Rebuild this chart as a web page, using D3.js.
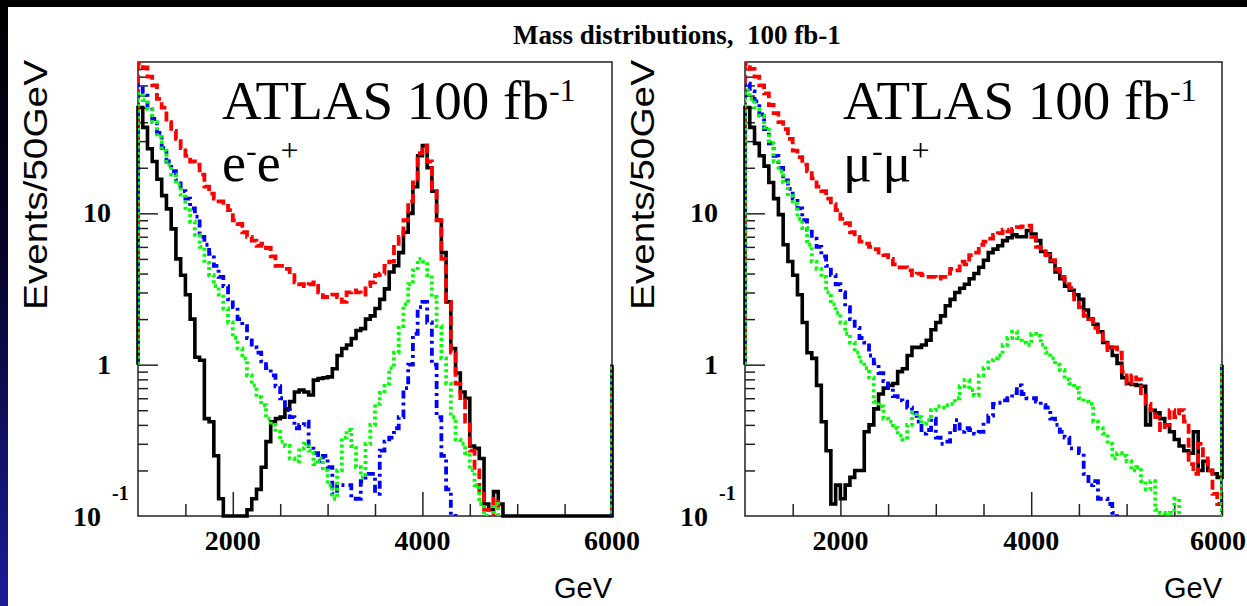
<!DOCTYPE html>
<html>
<head>
<meta charset="utf-8">
<script src="https://cdn.jsdelivr.net/npm/d3@7/dist/d3.min.js"></script>
<style>
  body { margin: 0; background: #fff; }
  svg { display: block; }
</style>
</head>
<body>
<div id="vis"></div>
<script>
// histogram binning: 50 GeV bins from 1000 to 6000 GeV
const binLow = 1000;
const binWidth = 50;
const massRange = [1000, 6000];
const eventsRange = [0.1, 100];
const baseLevel = 1;   // ROOT draws the outer edges of the histograms from this level

// e-e+ channel
const eeBlack = [50, 37, 26.7, 22, 16.8, 13.1, 10.7, 7.9, 5.0, 3.9,
  2.9, 2.0, 1.12, 1.07, 0.44, 0.42, 0.25, 0.13, 0, 0,
  0, 0, 0, 0.11, 0.13, 0.15, 0.21, 0.31, 0.42, 0.44,
  0.45, 0.51, 0.57, 0.66, 0.68, 0.66, 0.63, 0.79, 0.81, 0.82,
  0.83, 0.94, 1.15, 1.28, 1.35, 1.49, 1.68, 1.73, 2.0, 2.1,
  2.35, 2.7, 3.17, 4.1, 4.5, 5.5, 7.5, 10, 15, 24,
  28, 20, 14, 9, 5.5, 2.6, 1.28, 0.88, 0.66, 0.6,
  0.29, 0.28, 0.24, 0.12, 0.11, 0.145, 0.12, 0, 0, 0,
  0, 0, 0, 0, 0, 0, 0, 0, 0, 0,
  0, 0, 0, 0, 0, 0, 0, 0, 0, 0];
const eeRed = [98, 92, 80, 70, 57, 50, 40, 35, 31, 27,
  24, 22, 21, 18, 15, 13.5, 12.5, 12, 11.2, 10.5,
  9, 8.5, 7.5, 7, 6.6, 6.1, 6.3, 5.9, 5.2, 4.5,
  4.5, 4.3, 3.9, 3.5, 3.4, 3.3, 3.4, 3.5, 3.0, 2.8,
  2.8, 2.9, 2.8, 2.6, 3.0, 3.1, 3.0, 2.9, 3.3, 3.5,
  3.9, 4.0, 4.5, 4.8, 6.0, 7.0, 9, 12, 16, 25,
  28, 22, 14, 9, 5, 2.6, 1.2, 0.75, 0.58, 0.42,
  0.27, 0.2, 0.14, 0.11, 0.09, 0.13, 0.08, 0, 0, 0,
  0, 0, 0, 0, 0, 0, 0, 0, 0, 0,
  0, 0, 0, 0, 0, 0, 0, 0, 0, 0];
const eeBlue = [70, 62, 50, 42, 34, 27, 22, 19, 16.5, 14,
  12.5, 10.8, 9.5, 7.0, 6.2, 5.4, 4.5, 3.8, 3.3, 2.7,
  2.4, 2.0, 1.8, 1.5, 1.3, 1.2, 1.05, 0.95, 0.85, 0.72,
  0.6, 0.5, 0.45, 0.38, 0.40, 0.42, 0.29, 0.26, 0.23, 0.25,
  0.21, 0.14, 0.16, 0.16, 0.16, 0.13, 0.13, 0.17, 0.19, 0.19,
  0.14, 0.27, 0.31, 0.33, 0.38, 0.45, 0.7, 1.0, 1.6, 2.4,
  2.6, 1.9, 1.0, 0.45, 0.25, 0.15, 0.1, 0, 0, 0,
  0, 0, 0, 0, 0, 0, 0, 0, 0, 0,
  0, 0, 0, 0, 0, 0, 0, 0, 0, 0,
  0, 0, 0, 0, 0, 0, 0, 0, 0, 0];
const eeGreen = [62, 56, 49, 40, 32, 26, 21, 18, 15.5, 13.3,
  10.5, 8.8, 7.2, 6.0, 4.7, 3.9, 3.3, 2.9, 2.35, 1.9,
  1.5, 1.28, 1.1, 0.85, 0.73, 0.61, 0.54, 0.44, 0.4, 0.36,
  0.31, 0.29, 0.24, 0.23, 0.28, 0.3, 0.27, 0.22, 0.24, 0.2,
  0.16, 0.13, 0.2, 0.33, 0.37, 0.29, 0.21, 0.18, 0.3, 0.4,
  0.55, 0.65, 0.75, 0.95, 1.2, 1.8, 2.5, 3.4, 4.2, 5.0,
  4.8, 3.9, 2.8, 1.8, 1.1, 0.75, 0.45, 0.32, 0.3, 0.26,
  0.2, 0.16, 0.12, 0.1, 0.09, 0.12, 0.09, 0, 0, 0,
  0, 0, 0, 0, 0, 0, 0, 0, 0, 0,
  0, 0, 0, 0, 0, 0, 0, 0, 0, 0];

// mu-mu+ channel
const mmBlack = [50, 37, 29, 24, 20.5, 16, 12.5, 9.8, 6.2, 4.8,
  3.9, 2.9, 1.9, 1.2, 1.1, 0.73, 0.42, 0.27, 0.12, 0.16,
  0.13, 0.16, 0.18, 0.2, 0.2, 0.36, 0.4, 0.51, 0.64, 0.7,
  0.73, 0.75, 0.9, 0.94, 1.15, 1.3, 1.3, 1.35, 1.45, 1.7,
  1.9, 2.1, 2.45, 2.7, 3.0, 3.2, 3.4, 3.7, 4.0, 4.4,
  4.9, 5.5, 5.8, 6.1, 6.6, 6.9, 7.2, 7.0, 7.0, 7.7,
  7.3, 6.6, 5.6, 5.4, 4.8, 4.1, 3.7, 3.3, 3.1, 2.9,
  2.7, 2.3, 2.0, 1.85, 1.65, 1.4, 1.3, 1.15, 1.02, 0.82,
  0.75, 0.74, 0.73, 0.72, 0.4, 0.5, 0.48, 0.44, 0.4, 0.36,
  0.32, 0.29, 0.27, 0.26, 0.36, 0.2, 0.23, 0.2, 0.19, 0.18];
const mmRed = [98, 90, 80, 70, 62, 52, 46, 40, 36, 31,
  26, 23.5, 21, 19, 17, 15, 14, 12.5, 11.5, 10.5,
  9.2, 8.6, 7.5, 7.0, 6.5, 6.3, 6.0, 5.8, 5.5, 5.3,
  5.0, 4.6, 4.4, 4.4, 4.2, 3.9, 4.0, 3.9, 3.8, 3.8,
  3.7, 3.8, 4.0, 4.3, 4.2, 4.8, 4.6, 5.3, 5.5, 6.2,
  6.5, 6.8, 7.2, 7.4, 7.8, 7.6, 7.9, 8.1, 8.2, 8.3,
  7.0, 6.0, 5.6, 5.3, 4.9, 4.3, 3.8, 3.4, 3.2, 2.7,
  2.4, 2.1, 2.0, 1.75, 1.6, 1.45, 1.25, 1.3, 1.2, 0.9,
  0.75, 0.85, 0.8, 0.65, 0.55, 0.5, 0.45, 0.37, 0.4, 0.5,
  0.45, 0.5, 0.42, 0.22, 0.19, 0.3, 0.24, 0.2, 0.14, 0.12];
const mmBlue = [72, 64, 55, 45, 36, 29, 24, 20, 16.5, 14.5,
  12.5, 10.8, 9.0, 7.8, 6.8, 6.0, 5.2, 4.5, 3.9, 3.4,
  3.0, 2.4, 2.0, 1.75, 1.5, 1.4, 1.15, 1.02, 0.88, 0.78,
  0.7, 0.62, 0.58, 0.57, 0.52, 0.48, 0.42, 0.35, 0.37, 0.44,
  0.33, 0.3, 0.31, 0.37, 0.43, 0.36, 0.38, 0.37, 0.35, 0.36,
  0.42, 0.46, 0.55, 0.56, 0.58, 0.6, 0.65, 0.73, 0.64, 0.6,
  0.6, 0.57, 0.54, 0.52, 0.44, 0.4, 0.36, 0.33, 0.28, 0.28,
  0.26, 0.19, 0.16, 0.17, 0.13, 0.13, 0.12, 0.105, 0, 0,
  0, 0, 0, 0, 0, 0, 0, 0, 0, 0,
  0, 0, 0, 0, 0, 0, 0, 0, 0, 0];
const mmGreen = [65, 57, 50, 44, 37, 29, 22, 19, 16, 13,
  11.5, 9.2, 8.0, 6.2, 4.8, 4.3, 3.8, 3.0, 2.5, 2.2,
  1.9, 1.6, 1.4, 1.2, 1.05, 0.95, 0.82, 0.57, 0.53, 0.44,
  0.42, 0.38, 0.34, 0.32, 0.4, 0.48, 0.45, 0.41, 0.43, 0.5,
  0.53, 0.52, 0.54, 0.55, 0.6, 0.72, 0.79, 0.68, 0.63, 0.85,
  0.95, 1.07, 1.1, 1.15, 1.35, 1.5, 1.65, 1.5, 1.4, 1.35,
  1.6, 1.55, 1.35, 1.2, 1.1, 1.0, 0.92, 0.8, 0.75, 0.7,
  0.6, 0.57, 0.55, 0.42, 0.38, 0.35, 0.3, 0.24, 0.26, 0.25,
  0.23, 0.2, 0.21, 0.17, 0.15, 0.17, 0.11, 0.105, 0.1, 0.105,
  0.13, 0, 0, 0, 0, 0, 0, 0, 0, 0];

// ticks and labels
const xLabelTicks = [2000, 4000, 6000];
const xMinorTicks = [1500, 2500, 3000, 3500, 4500, 5000, 5500];
const yMajorTicks = [1, 10];
const yMinorTicks = [0.2, 0.3, 0.4, 0.5, 0.6, 0.7, 0.8, 0.9, 2, 3, 4, 5, 6, 7, 8, 9, 20, 30, 40, 50, 60, 70, 80, 90];
const yPlainLabels = [["10", 10], ["1", 1]];
const titleText = "Mass distributions,  100 fb-1";
const yTitle = "Events/50GeV";
const xTitle = "GeV";

const ctx = {
  w: 1247, h: 606,
  top: 62, bottom: 516,
  panels: [
    { left: 138, right: 612, atlasX: 222, channel: ["e", "-", "e", "+"], series: [eeBlack, eeRed, eeBlue, eeGreen] },
    { left: 745, right: 1222, atlasX: 843, channel: ["\u03bc", "-", "\u03bc", "+"], series: [mmBlack, mmRed, mmBlue, mmGreen] }
  ]
};

const styles = [
  { color: "#000000", dash: null, width: 3.6, floor: 0.1, clip: false },
  { color: "#ff0000", dash: "10,4", width: 3.8, floor: 0.05, clip: true },
  { color: "#0000ff", dash: "8,4,3,4", width: 3.8, floor: 0.05, clip: true },
  { color: "#00ff00", dash: "3,3", width: 3.8, floor: 0.05, clip: true }
];

const SERIF = "'Liberation Serif', 'Times New Roman', serif";
const SANS = "'Liberation Sans', Arial, sans-serif";

const svg = d3.select("#vis").append("svg")
  .attr("width", ctx.w).attr("height", ctx.h);

// slide background pieces
const defs = svg.append("defs");
const grad = defs.append("linearGradient").attr("id", "edgeGrad")
  .attr("x1", 0).attr("y1", 0).attr("x2", 0).attr("y2", 1);
grad.append("stop").attr("offset", "0").attr("stop-color", "#000");
grad.append("stop").attr("offset", "0.45").attr("stop-color", "#06062e");
grad.append("stop").attr("offset", "1").attr("stop-color", "#1c1c9a");

svg.append("rect").attr("width", ctx.w).attr("height", ctx.h).attr("fill", "#fff");
svg.append("rect").attr("x", 0).attr("y", 0).attr("width", 8).attr("height", ctx.h).attr("fill", "url(#edgeGrad)");
svg.append("rect").attr("x", 0).attr("y", 0).attr("width", ctx.w).attr("height", 7).attr("fill", "#000");

const y = d3.scaleLog().domain(eventsRange).range([ctx.bottom, ctx.top]);

// title
svg.append("text")
  .attr("x", 513).attr("y", 44)
  .style("white-space", "pre")
  .style("font-family", SERIF).style("font-weight", "bold").style("font-size", "27px")
  .text(titleText);

function histPoints(vals, x, floorV) {
  let pts = [[x(binLow), y(baseLevel)]];
  vals.forEach((v, i) => {
    let yy = y(Math.max(v, floorV));
    pts.push([x(binLow + i * binWidth), yy]);
    pts.push([x(binLow + (i + 1) * binWidth), yy]);
  });
  pts.push([x(massRange[1]), y(baseLevel)]);
  return pts;
}

function drawPanel(p, idx) {
  const x = d3.scaleLinear().domain(massRange).range([p.left, p.right]);
  const g = svg.append("g").attr("id", "panel" + idx);

  defs.append("clipPath").attr("id", "clip" + idx)
    .append("rect")
    .attr("x", p.left).attr("y", ctx.top)
    .attr("width", p.right - p.left).attr("height", ctx.bottom - ctx.top);

  // frame
  g.append("rect")
    .attr("x", p.left).attr("y", ctx.top)
    .attr("width", p.right - p.left).attr("height", ctx.bottom - ctx.top)
    .attr("fill", "none").attr("stroke", "#222").attr("stroke-width", 1.5);

  // y ticks (inside, on the left edge)
  g.append("g").attr("transform", `translate(${p.left},0)`)
    .call(d3.axisRight(y).tickValues(yMinorTicks).tickSize(10).tickFormat(""))
    .call(a => a.select(".domain").remove())
    .selectAll("line").attr("stroke", "#222").attr("stroke-width", 1.5);
  g.append("g").attr("transform", `translate(${p.left},0)`)
    .call(d3.axisRight(y).tickValues(yMajorTicks).tickSize(20).tickFormat(""))
    .call(a => a.select(".domain").remove())
    .selectAll("line").attr("stroke", "#222").attr("stroke-width", 1.5);

  // x ticks (inside, on the bottom edge)
  g.append("g").attr("transform", `translate(0,${ctx.bottom})`)
    .call(d3.axisTop(x).tickValues(xMinorTicks).tickSize(12).tickFormat(""))
    .call(a => a.select(".domain").remove())
    .selectAll("line").attr("stroke", "#222").attr("stroke-width", 1.5);
  g.append("g").attr("transform", `translate(0,${ctx.bottom})`)
    .call(d3.axisTop(x).tickValues(xLabelTicks).tickSize(24).tickFormat(""))
    .call(a => a.select(".domain").remove())
    .selectAll("line").attr("stroke", "#222").attr("stroke-width", 1.5);

  // histograms
  const line = d3.line();
  p.series.forEach((vals, k) => {
    const st = styles[k];
    const path = g.append("path")
      .attr("d", line(histPoints(vals, x, st.floor)))
      .attr("fill", "none")
      .attr("stroke", st.color)
      .attr("stroke-width", st.width)
      .attr("stroke-linejoin", "miter");
    if (st.dash) path.attr("stroke-dasharray", st.dash);
    if (st.clip) path.attr("clip-path", `url(#clip${idx})`);
  });

  // y tick labels
  yPlainLabels.forEach(([lab, v]) => {
    g.append("text")
      .attr("x", p.left - 27).attr("y", y(v) + 9)
      .attr("text-anchor", "end")
      .style("font-family", SERIF).style("font-weight", "bold").style("font-size", "28px")
      .text(lab);
  });
  g.append("text")
    .attr("x", p.left - 37).attr("y", y(eventsRange[0]) + 10)
    .attr("text-anchor", "end")
    .style("font-family", SERIF).style("font-weight", "bold").style("font-size", "28px")
    .text("10");
  g.append("text")
    .attr("x", p.left - 26).attr("y", y(eventsRange[0]) - 16)
    .style("font-family", SERIF).style("font-weight", "bold").style("font-size", "20px")
    .text("-1");

  // x tick labels (the last one is kept inside the window)
  xLabelTicks.forEach(v => {
    const xp = x(v);
    const t = g.append("text")
      .attr("y", 550)
      .style("font-family", SERIF).style("font-weight", "bold").style("font-size", "28px")
      .text(v);
    if (xp + 29 > ctx.w) t.attr("x", ctx.w - 1).attr("text-anchor", "end");
    else t.attr("x", xp).attr("text-anchor", "middle");
  });

  // axis titles
  g.append("text")
    .attr("x", p.right).attr("y", 598)
    .attr("text-anchor", "end")
    .style("font-family", SANS).style("font-size", "29px")
    .text(xTitle);
  g.append("text")
    .attr("transform", `translate(${p.left - 91},${ctx.top - 2}) rotate(-90)`)
    .attr("text-anchor", "end")
    .attr("textLength", 250).attr("lengthAdjust", "spacingAndGlyphs")
    .style("font-family", SANS).style("font-size", "34px")
    .text(yTitle);

  // ATLAS label
  const atlas = g.append("text")
    .attr("x", p.atlasX).attr("y", 119)
    .style("font-family", SERIF).style("font-size", "55px");
  atlas.append("tspan").text("ATLAS 100 fb");
  atlas.append("tspan").attr("dy", -18).style("font-size", "32px").text("-1");

  const ch = g.append("text")
    .attr("x", p.atlasX).attr("y", 181)
    .style("font-family", SERIF).style("font-size", "54px");
  ch.append("tspan").text(p.channel[0]);
  ch.append("tspan").attr("dy", -20).style("font-size", "32px").text(p.channel[1]);
  ch.append("tspan").attr("dy", 20).text(p.channel[2]);
  ch.append("tspan").attr("dy", -20).style("font-size", "32px").text(p.channel[3]);
}

ctx.panels.forEach(drawPanel);
</script>
</body>
</html>
